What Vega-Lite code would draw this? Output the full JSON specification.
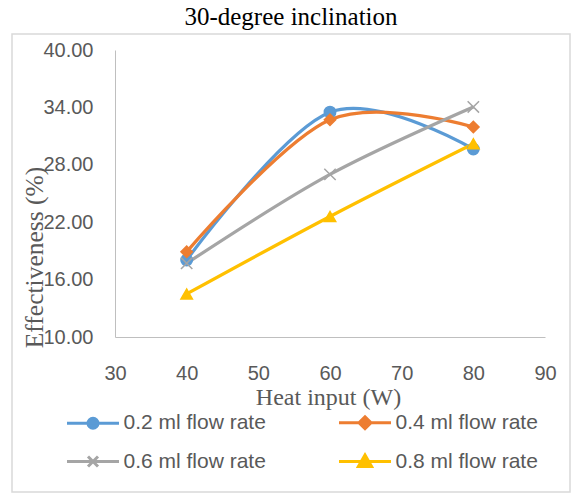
{
  "$schema": "https://vega.github.io/schema/vega-lite/v6.json",
  "width": 558,
  "height": 458,
  "autosize": {"type": "none"},
  "padding": {"left": 12, "top": 34, "right": 2, "bottom": 2},
  "background": "white",
  "config": {
    "view": {"stroke": "#D9D9D9", "strokeWidth": 1.5},
    "axis": {"grid": false}
  },
  "title": {
    "text": "30-degree inclination",
    "font": "Liberation Serif",
    "fontSize": 25,
    "fontWeight": "normal",
    "color": "#000000",
    "offset": 4
  },
  "data": {
    "values": [
      {"series": "0.2 ml flow rate", "heat": 40, "eff": 18.05},
      {"series": "0.2 ml flow rate", "heat": 60, "eff": 33.5},
      {"series": "0.2 ml flow rate", "heat": 80, "eff": 29.65},
      {"series": "0.4 ml flow rate", "heat": 40, "eff": 18.9},
      {"series": "0.4 ml flow rate", "heat": 60, "eff": 32.7},
      {"series": "0.4 ml flow rate", "heat": 80, "eff": 31.95},
      {"series": "0.6 ml flow rate", "heat": 40, "eff": 17.7},
      {"series": "0.6 ml flow rate", "heat": 60, "eff": 27.0},
      {"series": "0.6 ml flow rate", "heat": 80, "eff": 34.05},
      {"series": "0.8 ml flow rate", "heat": 40, "eff": 14.5},
      {"series": "0.8 ml flow rate", "heat": 60, "eff": 22.6},
      {"series": "0.8 ml flow rate", "heat": 80, "eff": 30.2}
    ]
  },
  "encoding": {
    "x": {
      "field": "heat",
      "type": "quantitative",
      "scale": {"domain": [30, 90], "range": [103, 533], "nice": false, "zero": false},
      "axis": {
        "values": [30, 40, 50, 60, 70, 80, 90],
        "format": "d",
        "title": "Heat input (W)",
        "titleFont": "Liberation Serif",
        "titleFontSize": 24,
        "titleFontWeight": "normal",
        "titleColor": "#595959",
        "titleX": 316,
        "titleY": 60,
        "titleBaseline": "middle",
        "labelFont": "Liberation Sans",
        "labelFontSize": 20,
        "labelColor": "#595959",
        "labelPadding": 26,
        "ticks": false,
        "tickSize": 0,
        "domainColor": "#BFBFBF",
        "domainWidth": 1,
        "offset": -155,
        "labelFlush": false,
        "labelOverlap": false
      }
    },
    "y": {
      "field": "eff",
      "type": "quantitative",
      "scale": {"domain": [10, 40], "range": [303, 16], "nice": false, "zero": false},
      "axis": {
        "values": [10, 16, 22, 28, 34, 40],
        "format": ".2f",
        "title": "Effectiveness (%)",
        "titleFont": "Liberation Serif",
        "titleFontSize": 25.5,
        "titleFontWeight": "normal",
        "titleColor": "#595959",
        "titleX": -81,
        "titleY": 223,
        "titleBaseline": "middle",
        "titleAngle": -90,
        "labelFont": "Liberation Sans",
        "labelFontSize": 20,
        "labelColor": "#595959",
        "labelPadding": 22,
        "ticks": false,
        "tickSize": 0,
        "domainColor": "#BFBFBF",
        "domainWidth": 1,
        "offset": -103,
        "labelFlush": false,
        "labelOverlap": false
      }
    }
  },
  "layer": [
    {
      "mark": {"type": "line", "interpolate": "cardinal", "strokeWidth": 3.25},
      "encoding": {
        "color": {
          "field": "series",
          "type": "nominal",
          "scale": {
            "domain": ["0.2 ml flow rate", "0.4 ml flow rate", "0.6 ml flow rate", "0.8 ml flow rate"],
            "range": ["#5B9BD5", "#ED7D31", "#A5A5A5", "#FFC000"]
          },
          "legend": {
            "title": null,
            "orient": "none",
            "legendX": 69.5,
            "legendY": 377,
            "columns": 2,
            "direction": "horizontal",
            "padding": 0,
            "symbolSize": 400,
            "symbolStrokeWidth": 3,
            "symbolType": {"expr": "datum.value === '0.2 ml flow rate' ? 'M-2.6,0H2.6M-0.5,0A0.5,0.5,0,1,1,0.5,0A0.5,0.5,0,1,1,-0.5,0Z' : datum.value === '0.4 ml flow rate' ? 'M-2.6,0H2.6M0,-0.6L0.6,0L0,0.6L-0.6,0Z' : datum.value === '0.6 ml flow rate' ? 'M-2.6,0H2.6M-0.5,-0.5L0.5,0.5M-0.5,0.5L0.5,-0.5' : 'M-2.6,0H2.6M0,-0.65L0.66,0.5L-0.66,0.5Z'"},
            "labelFont": "Liberation Sans",
            "labelFontSize": 21,
            "labelColor": "#595959",
            "labelOffset": 19,
            "labelLimit": 300,
            "rowPadding": 14,
            "columnPadding": 66,
            "encode": {
              "symbols": {
                "update": {
                  "fill": {"scale": "color", "field": "value"},
                  "stroke": {"scale": "color", "field": "value"},
                  "opacity": {"value": 1}
                }
              }
            }
          }
        }
      }
    },
    {
      "mark": {"type": "point", "filled": true, "size": 130, "strokeWidth": 1.5, "opacity": 1},
      "encoding": {
        "shape": {
          "field": "series",
          "type": "nominal",
          "scale": {
            "domain": ["0.8 ml flow rate", "0.6 ml flow rate", "0.4 ml flow rate", "0.2 ml flow rate"],
            "range": ["triangle-up", "M-1,-1L1,1M-1,1L1,-1", "diamond", "circle"]
          },
          "legend": null
        },
        "fill": {
          "field": "series",
          "type": "nominal",
          "scale": {
            "domain": ["0.8 ml flow rate", "0.6 ml flow rate", "0.4 ml flow rate", "0.2 ml flow rate"],
            "range": ["#FFC000", "#A5A5A5", "#ED7D31", "#5B9BD5"]
          },
          "legend": null
        },
        "stroke": {
          "field": "series",
          "type": "nominal",
          "scale": {
            "domain": ["0.8 ml flow rate", "0.6 ml flow rate", "0.4 ml flow rate", "0.2 ml flow rate"],
            "range": ["#FFC000", "#A5A5A5", "#ED7D31", "#5B9BD5"]
          },
          "legend": null
        }
      }
    }
  ]
}
